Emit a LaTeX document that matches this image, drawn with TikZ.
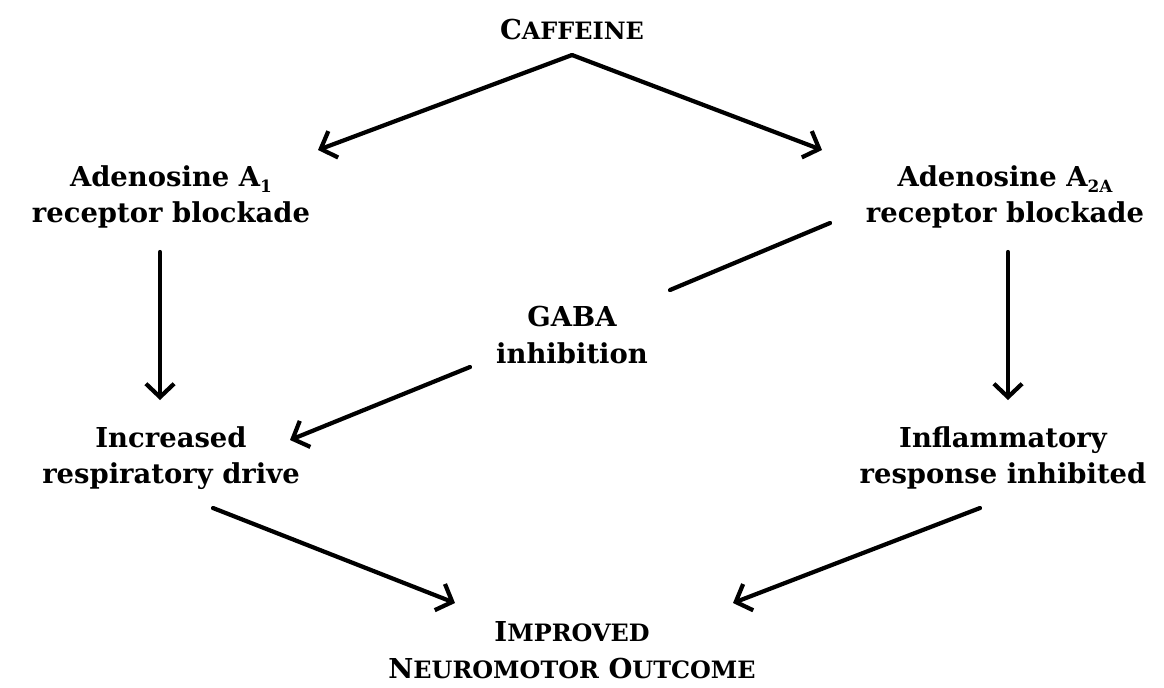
\documentclass[tikz,border=0pt]{standalone}
\usepackage{fontspec}
\setmainfont{DejaVu Serif}
\usetikzlibrary{arrows.meta}
%fake small caps and subscripts
\newcommand{\fakesc}[2]{#1{\fontsize{17}{26}\selectfont #2}}
\newcommand{\lowidx}[1]{\raisebox{-0.45ex}{\fontsize{12}{12}\selectfont #1}}
\begin{document}
\begin{tikzpicture}[x=0.025cm, y=-0.025cm,
  box/.style={align=center, font=\bfseries\fontsize{19.5}{26}\selectfont, inner sep=2pt},
  link/.style={line width=3pt, line cap=round},
  arr/.style={link, -{Straight Barb[length=9.5pt, width=20pt, line width=3pt]}}]
\useasboundingbox (0,0) rectangle (1164,687);
%the nodes
\node[box] (caffeine) at (572,30) {\fakesc{C}{AFFEINE}};
\node[box] (aone) at (171,197) {Adenosine A\lowidx{1}\\receptor blockade};
\node[box] (atwo) at (1005,197) {Adenosine A\lowidx{2A}\\receptor blockade};
\node[box] (gaba) at (572,335) {GABA\\inhibition};
\node[box] (resp) at (171,458) {Increased\\respiratory drive};
\node[box] (infl) at (1003,458) {Inflammatory\\response inhibited};
\node[box] (outcome) at (572,650) {\fakesc{I}{MPROVED}\\\fakesc{N}{EUROMOTOR} \fakesc{O}{UTCOME}};
%arrow ends
\coordinate (top) at (572,55);
\coordinate (aonein) at (318,150);
\coordinate (atwoin) at (822,150);
\coordinate (aoneout) at (160,252);
\coordinate (respin) at (160,400);
\coordinate (atwoout) at (1008,252);
\coordinate (inflin) at (1008,400);
\coordinate (gabain) at (830,223);
\coordinate (gabatop) at (670,290);
\coordinate (gabaout) at (470,367);
\coordinate (respside) at (290,440);
\coordinate (respout) at (213,508);
\coordinate (inflout) at (980,508);
\coordinate (outleft) at (455,603);
\coordinate (outright) at (733,603);
%connectors
\draw[arr] (top) -- (aonein);
\draw[arr] (top) -- (atwoin);
\draw[arr] (aoneout) -- (respin);
\draw[arr] (atwoout) -- (inflin);
\draw[link] (gabain) -- (gabatop);
\draw[arr] (gabaout) -- (respside);
\draw[arr] (respout) -- (outleft);
\draw[arr] (inflout) -- (outright);
\end{tikzpicture}
\end{document}
